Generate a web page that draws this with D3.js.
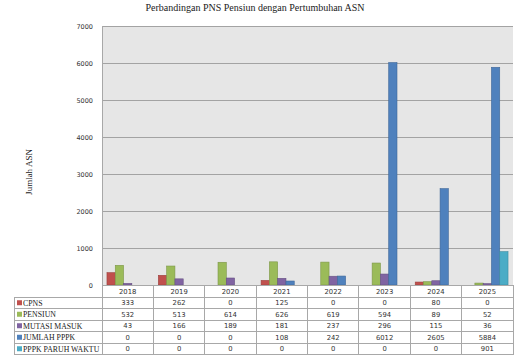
<!DOCTYPE html>
<html><head><meta charset="utf-8">
<script src="https://cdn.jsdelivr.net/npm/d3@7"></script>
<style>body{margin:0;background:#fff}svg{display:block}</style>
</head><body>
<svg id="c" width="529" height="361"></svg>
<script>
const years = ["2018","2019","2020","2021","2022","2023","2024","2025"];
const seriesNames = ["CPNS","PENSIUN","MUTASI MASUK","JUMLAH PPPK","PPPK PARUH WAKTU"];
const cpns = [333,262,0,125,0,0,80,0];
const pensiun = [532,513,614,626,619,594,89,52];
const mutasi = [43,166,189,181,237,296,115,36];
const pppk = [0,0,0,108,242,6012,2605,5884];
const pppkParuh = [0,0,0,0,0,0,0,901];
const colors = ["#c0504d","#9bbb59","#8064a2","#4f81bd","#4bacc6"];
const yTicks = [0,1000,2000,3000,4000,5000,6000,7000];
const seriesVals = [cpns,pensiun,mutasi,pppk,pppkParuh];

const svg = d3.select("#c");
const L=102,R=513,T=26,B=285;
const x0 = d3.scaleBand().domain(years).range([L,R]).padding(0);
const x1 = d3.scaleBand().domain(seriesNames).range([0,x0.bandwidth()]).paddingInner(0).paddingOuter(0.6);
const y = d3.scaleLinear().domain([0,7000]).range([B,T]);

svg.append("rect").attr("x",L).attr("y",T).attr("width",R-L).attr("height",B-T).attr("fill","#e6e6e6");
// gridlines
svg.append("g").selectAll("line").data(yTicks.slice(1)).join("line")
  .attr("x1",L).attr("x2",R).attr("y1",d=>y(d)+0.5).attr("y2",d=>y(d)+0.5)
  .attr("stroke","#a3a3a3").attr("stroke-width",1);
svg.append("line").attr("x1",L+0.5).attr("x2",L+0.5).attr("y1",T).attr("y2",B).attr("stroke","#a8a8a8");

// y axis labels
const yAxis = d3.axisLeft(y).tickValues(yTicks).tickSize(0).tickPadding(9).tickFormat(d3.format("d"));
const ga = svg.append("g").attr("transform",`translate(${L},0)`).call(yAxis);
ga.select(".domain").remove();
ga.selectAll("text").attr("font-family","DejaVu Sans").attr("font-size","6.5px").attr("fill","#333");

// bars
seriesNames.forEach((s,i)=>{
  svg.append("g").selectAll("rect").data(years.map((yr,j)=>({yr,v:seriesVals[i][j]}))).join("rect")
    .attr("x",d=>x0(d.yr)+x1(s))
    .attr("y",d=>y(d.v))
    .attr("width",x1.bandwidth())
    .attr("height",d=>B-y(d.v))
    .attr("fill",colors[i])
    .attr("stroke",d3.color(colors[i]).darker(0.6))
    .attr("stroke-width",d=>d.v>0?0.6:0);
});

// title
svg.append("text").attr("x",255).attr("y",11).attr("text-anchor","middle")
  .attr("font-family","Liberation Serif").attr("font-size","10px").attr("fill","#222")
  .text("Perbandingan PNS Pensiun dengan Pertumbuhan ASN");
// y label
svg.append("text").attr("transform","translate(32,172) rotate(-90)").attr("text-anchor","middle")
  .attr("font-family","Liberation Serif").attr("font-size","9px").attr("fill","#222").text("Jumlah ASN");

// data table
const rowH = 11.5, headTop = B, headH = 12;
const tl = 14;
const tb = headTop+headH+rowH*5;
const tg = svg.append("g").attr("stroke","#a8a8a8").attr("stroke-width",1).attr("shape-rendering","crispEdges");
// horizontal
tg.append("line").attr("x1",L).attr("x2",R).attr("y1",headTop).attr("y2",headTop);
for(let k=0;k<=5;k++){
  const yy = headTop+headH+rowH*k;
  tg.append("line").attr("x1",tl).attr("x2",R).attr("y1",yy).attr("y2",yy);
}
// vertical
tg.append("line").attr("x1",tl).attr("x2",tl).attr("y1",headTop+headH).attr("y2",tb);
years.forEach(yr=>{
  tg.append("line").attr("x1",x0(yr)).attr("x2",x0(yr)).attr("y1",headTop).attr("y2",tb);
});
tg.append("line").attr("x1",R).attr("x2",R).attr("y1",headTop).attr("y2",tb);

svg.append("g").selectAll("text").data(years).join("text")
  .attr("x",d=>x0(d)+x0.bandwidth()/2).attr("y",headTop+headH/2+2.5).attr("text-anchor","middle")
  .attr("font-family","DejaVu Sans").attr("font-size","6.8px").attr("fill","#333").text(d=>d);

seriesNames.forEach((s,i)=>{
  const yy = headTop+headH+rowH*i;
  svg.append("rect").attr("x",tl+3).attr("y",yy+rowH/2-2.5).attr("width",5).attr("height",5).attr("fill",colors[i]);
  svg.append("text").attr("x",tl+9).attr("y",yy+rowH/2+2.8).attr("font-family","Liberation Serif")
    .attr("font-size","7.8px").attr("fill","#222").text(s);
  svg.append("g").selectAll("text").data(years.map((yr,j)=>({yr,v:seriesVals[i][j]}))).join("text")
    .attr("x",d=>x0(d.yr)+x0.bandwidth()/2).attr("y",yy+rowH/2+2.5).attr("text-anchor","middle")
    .attr("font-family","DejaVu Sans").attr("font-size","6.8px").attr("fill","#333").text(d=>d.v);
});
</script>
</body></html>
